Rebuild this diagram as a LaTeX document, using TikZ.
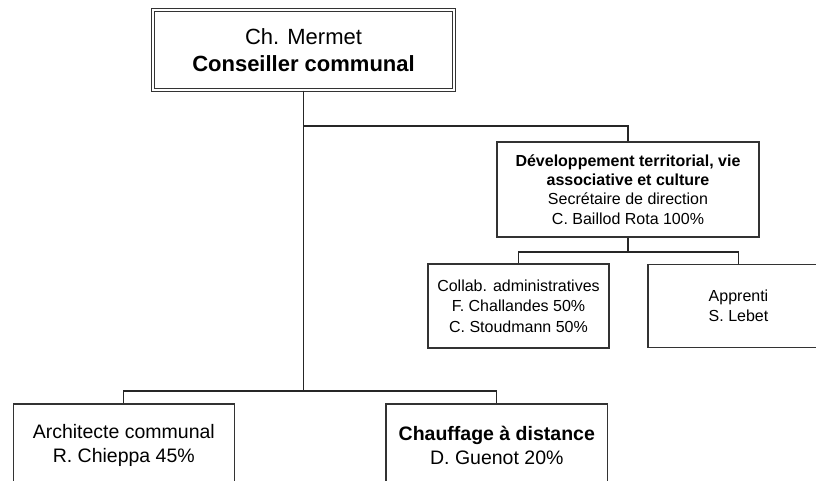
\documentclass[tikz,border=0pt]{standalone}
\usepackage{fontspec}
\setmainfont{Liberation Sans}
\begin{document}
\begin{tikzpicture}[x=1pt,y=-1pt,
  box/.style={rectangle,draw=black!80,line width=1.1pt,inner sep=0pt,align=center,text=black},
  conn/.style={draw=black!85,line width=1.1pt},
  f22/.style={font=\fontsize{22}{27}\selectfont},
  f16/.style={font=\fontsize{16}{19.3}\selectfont},
  f16b/.style={font=\fontsize{16}{20.5}\selectfont},
  f19/.style={font=\fontsize{19.5}{24}\selectfont}]
\useasboundingbox (0,0) rectangle (816,481);
\clip (0,0) rectangle (816,481);
\fill[white] (0,0) rectangle (816,481);

\node[box,f22,double,double distance=1.8pt,minimum width=301pt,minimum height=80pt] (top) at (303.5,50)
  {Ch. Mermet\\\textbf{Conseiller communal}};
\node[box,f16,minimum width=262pt,minimum height=95pt] (dev) at (628,189.5)
  {\textbf{Développement territorial, vie}\\\textbf{associative et culture}\\Secrétaire de direction\\C. Baillod Rota 100\%};
\node[box,f16b,minimum width=181pt,minimum height=84pt] (collab) at (518.5,306)
  {Collab. administratives\\F. Challandes 50\%\\C. Stoudmann 50\%};
\node[box,f16b,minimum width=181pt,minimum height=83pt] (appr) at (738.5,306)
  {Apprenti\\S. Lebet};
\node[box,f19,minimum width=221pt,minimum height=82pt] (arch) at (123.8,445)
  {Architecte communal\\R. Chieppa 45\%};
\node[box,f19,minimum width=221.7pt,minimum height=82pt] (chauf) at (496.8,445)
  {\textbf{Chauffage à distance}\\D. Guenot 20\%};

\coordinate (busB) at (303.5,391);
\coordinate (brA) at (303.5,126);
\coordinate (busC) at (628,252);

\draw[conn] (top.south) -- (busB);
\draw[conn] (arch.north) |- (busB) -| (chauf.north);
\draw[conn] (brA) -| (dev.north);
\draw[conn] (dev.south) -- (busC);
\draw[conn] (collab.north) |- (busC) -| (appr.north);
\end{tikzpicture}
\end{document}
